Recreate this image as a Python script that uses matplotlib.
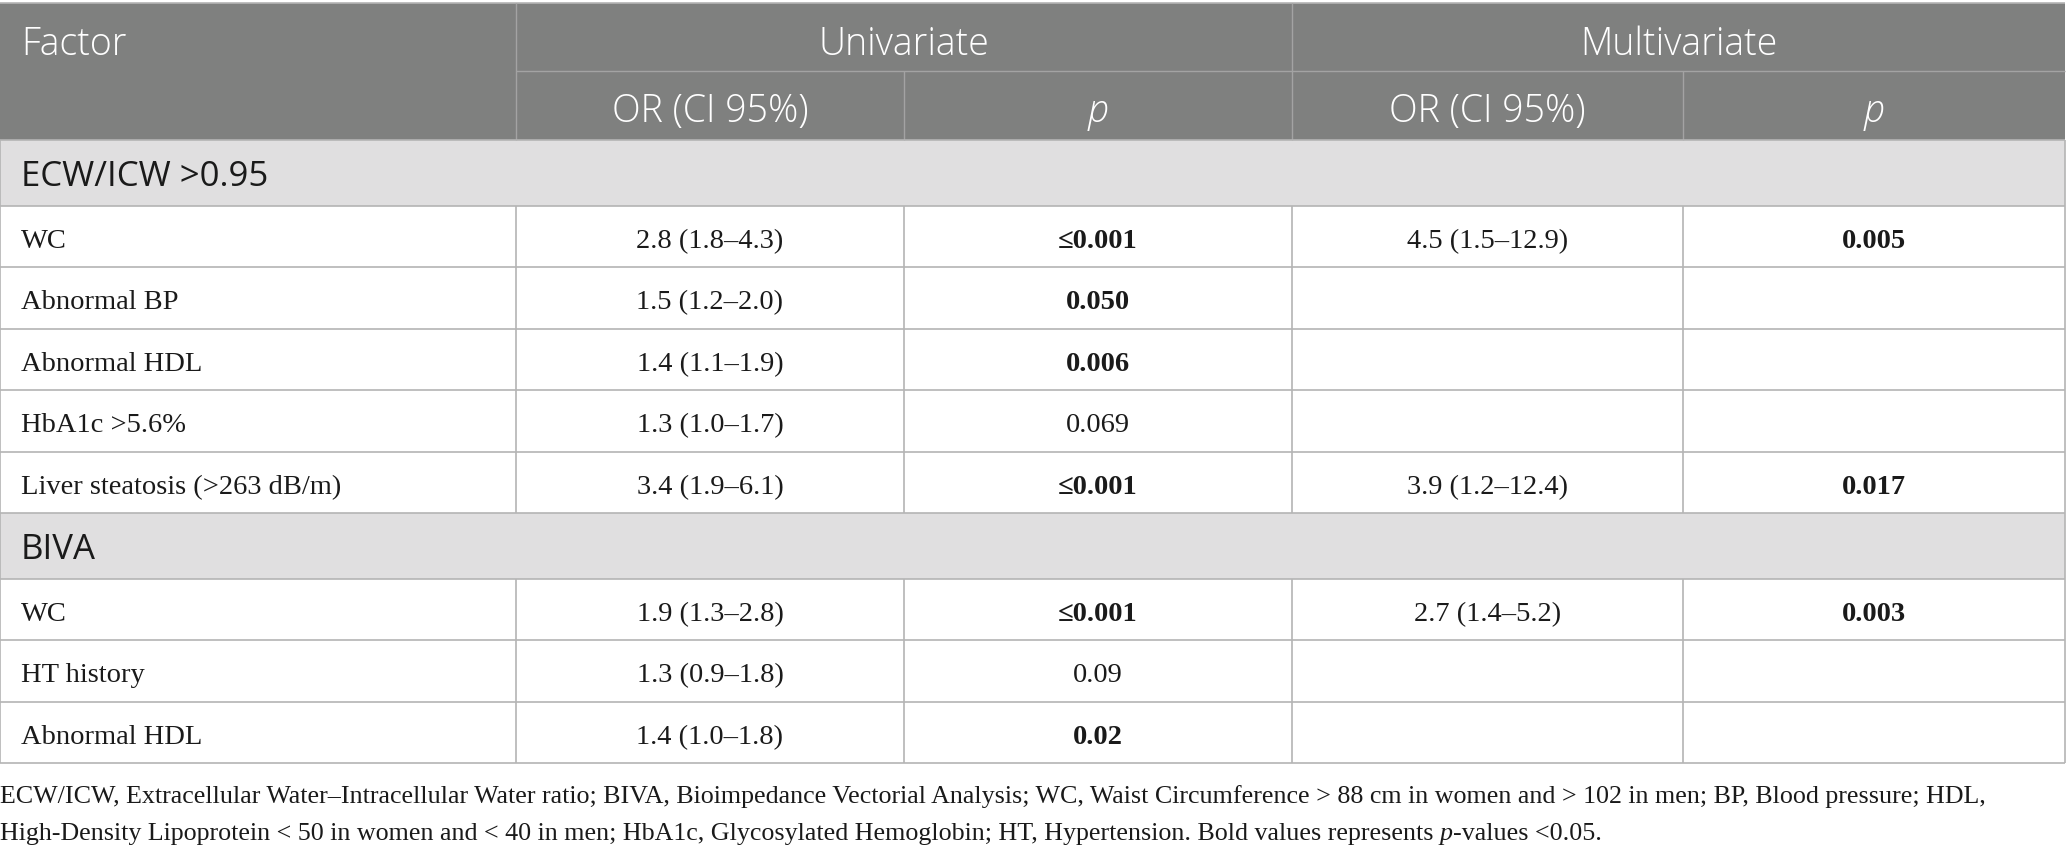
import matplotlib.pyplot as plt
from matplotlib.patches import Rectangle

# table content
header_groups = ["Univariate", "Multivariate"]
sub_headers = ["OR (CI 95%)", "p", "OR (CI 95%)", "p"]
sections = ["ECW/ICW >0.95", "BIVA"]
factors = [
    ["WC", "Abnormal BP", "Abnormal HDL", "HbA1c >5.6%", "Liver steatosis (>263 dB/m)"],
    ["WC", "HT history", "Abnormal HDL"],
]
uni_or = [
    ["2.8 (1.8–4.3)", "1.5 (1.2–2.0)", "1.4 (1.1–1.9)", "1.3 (1.0–1.7)", "3.4 (1.9–6.1)"],
    ["1.9 (1.3–2.8)", "1.3 (0.9–1.8)", "1.4 (1.0–1.8)"],
]
uni_p = [
    ["≤0.001", "0.050", "0.006", "0.069", "≤0.001"],
    ["≤0.001", "0.09", "0.02"],
]
multi_or = [
    ["4.5 (1.5–12.9)", "", "", "", "3.9 (1.2–12.4)"],
    ["2.7 (1.4–5.2)", "", ""],
]
multi_p = [
    ["0.005", "", "", "", "0.017"],
    ["0.003", "", ""],
]
not_bold = ["0.069", "0.09"]
footnote_1 = ("ECW/ICW, Extracellular Water–Intracellular Water ratio; BIVA, Bioimpedance "
              "Vectorial Analysis; WC, Waist Circumference > 88 cm in women and > 102 in men; "
              "BP, Blood pressure; HDL,")
footnote_2 = ("High-Density Lipoprotein < 50 in women and < 40 in men; HbA1c, Glycosylated "
              "Hemoglobin; HT, Hypertension. Bold values represents ")
footnote_3 = "-values <0.05."

W, H = 2067, 854
cols = [0, 516, 904, 1292, 1683, 2065]
head_top, head_mid, head_bot = 4, 72, 141
sec_h, row_h = 65.5, 61.5

header_bg = "#7f807f"
section_bg = "#e0dfe0"
grid = "#b4b4b4"
head_line = "#a3a3a3"
ink = "#1a1a1a"
sans = "Open Sans"
serif = "Liberation Serif"
body_fs = 20.5
foot_fs = 18.7
head_fs = 27
sec_fs = 25

fig = plt.figure(figsize=(W / 100, H / 100), dpi=100)
ax = fig.add_axes([0, 0, 1, 1])
ax.set_xlim(0, W)
ax.set_ylim(H, 0)
ax.axis("off")

# header block
ax.add_patch(Rectangle((cols[0], head_top), cols[-1] - cols[0], head_bot - head_top,
                       facecolor=header_bg, edgecolor="none"))
ax.hlines(head_top, cols[0], cols[-1], color=grid, lw=1.2)
ax.hlines(head_mid, cols[1], cols[-1], color=head_line, lw=1)
ax.vlines([cols[1], cols[3]], head_top, head_bot, color=head_line, lw=1)
ax.vlines([cols[2], cols[4]], head_mid, head_bot, color=head_line, lw=1)

ax.text(21, (head_top + head_mid) / 2 + 7, "Factor", color="white", fontsize=head_fs,
        family=sans, weight="light", ha="left", va="center")
for i, g in enumerate(header_groups):
    xc = (cols[1 + 2 * i] + cols[3 + 2 * i]) / 2
    ax.text(xc, (head_top + head_mid) / 2 + 7, g, color="white", fontsize=head_fs,
            family=sans, weight="light", ha="center", va="center")
for i, s in enumerate(sub_headers):
    xc = (cols[1 + i] + cols[2 + i]) / 2
    ax.text(xc, (head_mid + head_bot) / 2 + 5, s, color="white", fontsize=head_fs,
            family=sans, weight="light", ha="center", va="center",
            style="italic" if s == "p" else "normal")

# body
y = head_bot
for k, sec in enumerate(sections):
    ax.add_patch(Rectangle((cols[0], y), cols[-1] - cols[0], sec_h,
                           facecolor=section_bg, edgecolor="none"))
    ax.hlines(y, cols[0], cols[-1], color=grid, lw=1.2)
    ax.text(21, y + sec_h / 2 + 3, sec, color=ink, fontsize=sec_fs, family=sans,
            ha="left", va="center")
    ax.vlines([cols[0], cols[-1]], y, y + sec_h, color=grid, lw=1.2)
    y += sec_h
    for j, f in enumerate(factors[k]):
        ax.hlines(y, cols[0], cols[-1], color=grid, lw=1.2)
        ax.vlines(cols, y, y + row_h, color=grid, lw=1.2)
        yc = y + row_h / 2 + 4
        ax.text(21, yc, f, color=ink, fontsize=body_fs, family=serif, ha="left", va="center")
        cells = [uni_or[k][j], uni_p[k][j], multi_or[k][j], multi_p[k][j]]
        for c, val in enumerate(cells):
            if not val:
                continue
            bold = c % 2 == 1 and val not in not_bold
            ax.text((cols[1 + c] + cols[2 + c]) / 2, yc, val, color=ink, fontsize=body_fs,
                    family=[serif, "DejaVu Serif"], ha="center", va="center",
                    weight="bold" if bold else "normal")
        y += row_h
ax.hlines(y, cols[0], cols[-1], color=grid, lw=1.2)

# footnote
ax.text(0, 797, footnote_1, color=ink, fontsize=foot_fs, family=serif, ha="left", va="center")
t2 = ax.text(0, 834, footnote_2, color=ink, fontsize=foot_fs, family=serif,
             ha="left", va="center")
fig.canvas.draw()
r = fig.canvas.get_renderer()
x2 = ax.transData.inverted().transform(t2.get_window_extent(r))[1][0]
t3 = ax.text(x2, 834, "p", color=ink, fontsize=foot_fs, family=serif, style="italic",
             ha="left", va="center")
x3 = ax.transData.inverted().transform(t3.get_window_extent(r))[1][0]
ax.text(x3, 834, footnote_3, color=ink, fontsize=foot_fs, family=serif, ha="left", va="center")

fig.savefig("out.png", dpi=100, facecolor="white")
